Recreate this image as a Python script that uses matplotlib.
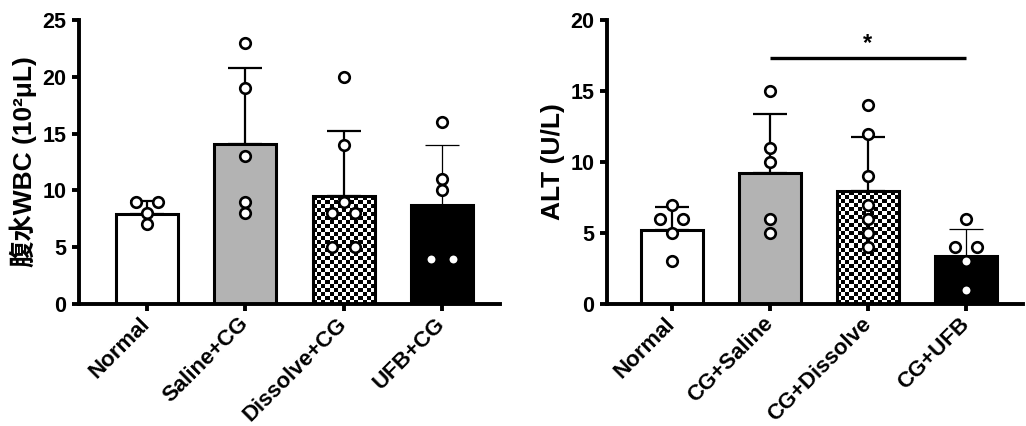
import numpy as np
import matplotlib
matplotlib.use("Agg")
import matplotlib.pyplot as plt

plt.rcParams['font.family'] = ['Liberation Sans', 'Noto Sans CJK SC', 'DejaVu Sans']
plt.rcParams['font.weight'] = 'bold'

# ---------------- data ----------------
wbc_groups = ['Normal', 'Saline+CG', 'Dissolve+CG', 'UFB+CG']
wbc_mean = [7.9, 14.1, 9.5, 8.7]
wbc_sd = [1.15, 6.7, 5.7, 5.3]
wbc_points = [[9, 9, 8, 7], [23, 19, 13, 9, 8], [20, 14, 9, 8, 8, 5, 5], [16, 11, 10, 4, 4]]

alt_groups = ['Normal', 'CG+Saline', 'CG+Dissolve', 'CG+UFB']
alt_mean = [5.2, 9.2, 7.95, 3.4]
alt_sd = [1.65, 4.2, 3.8, 1.9]
alt_points = [[7, 6, 6, 5, 3], [15, 11, 10, 6, 5], [14, 12, 9, 7, 6, 5, 4], [6, 4, 4, 3, 1]]
alt_sig = (1, 3, 17.35, '*')

fill_styles = ['white', '#b3b3b3', 'checker', 'black']

fig = plt.figure(figsize=(10.26, 4.26), dpi=100)
ax1 = fig.add_axes([0.0770, 0.2864, 0.4103, 0.6667])
ax2 = fig.add_axes([0.5916, 0.2864, 0.4055, 0.6667])

LW = 2.8


def spread(vals, step=0.23):
    offs = []
    seen = {}
    for v in vals:
        seen[v] = seen.get(v, 0) + 1
    used = {}
    for v in vals:
        n = seen[v]
        i = used.get(v, 0)
        used[v] = i + 1
        offs.append((i - (n - 1) / 2) * step)
    return offs


def panel(ax, groups, mean, sd, points, ymax, ylabel, xlim):
    x = np.arange(len(groups))
    ax.set_xlim(*xlim)
    ax.set_ylim(0, ymax)
    faces = ['none' if f == 'checker' else f for f in fill_styles]
    bars = ax.bar(x, mean, width=0.63, color=faces, edgecolor='black',
                  linewidth=2.2, zorder=2)
    fig.canvas.draw()
    for b, f in zip(bars, fill_styles):
        if f == 'checker':
            x0, y0 = b.get_x(), 0
            x1, y1 = b.get_x() + b.get_width(), b.get_height()
            p0 = ax.transData.transform((x0, y0))
            p1 = ax.transData.transform((x1, y1))
            nx = max(1, int(round((p1[0] - p0[0]) / 4.0)))
            ny = max(1, int(round((p1[1] - p0[1]) / 4.0)))
            chk = (np.indices((ny, nx)).sum(axis=0) % 2).astype(float)
            im = ax.imshow(chk, cmap='gray', extent=(x0, x1, y0, y1), origin='lower',
                           interpolation='nearest', aspect='auto', zorder=1.5)
            im.set_clip_path(b)
    for i in range(len(groups)):
        thin = fill_styles[i] == 'black'
        ax.errorbar(x[i], mean[i], yerr=[[0], [sd[i]]], fmt='none', ecolor='black',
                    elinewidth=0.9 if thin else 1.6, capsize=12,
                    capthick=0.9 if thin else 1.6, zorder=2.5)
    for i, pts in enumerate(points):
        offs = spread(pts)
        ax.plot(x[i] + np.array(offs), pts, 'o', ms=7.6, mfc='white', mec='black',
                mew=1.9, zorder=4, clip_on=False, linestyle='none')
    for s in ['top', 'right']:
        ax.spines[s].set_visible(False)
    for s in ['left', 'bottom']:
        ax.spines[s].set_linewidth(LW)
    ax.tick_params(axis='both', width=LW, length=5, labelsize=15.5, pad=4)
    ax.tick_params(axis='x', pad=7)
    ax.set_yticks(np.arange(0, ymax + 1, 5))
    ax.set_xticks(x)
    ax.set_xticklabels(groups, rotation=45, ha='right', va='center',
                       rotation_mode='anchor', fontsize=16, fontweight='bold')
    for lab in ax.get_yticklabels():
        lab.set_fontweight('bold')
    ax.set_ylabel(ylabel, fontsize=19, fontweight='bold', labelpad=4)


panel(ax1, wbc_groups, wbc_mean, wbc_sd, wbc_points, 25, '腹水WBC (10²μL)', (-0.69, 3.59))
panel(ax2, alt_groups, alt_mean, alt_sd, alt_points, 20, 'ALT (U/L)', (-0.66, 3.58))

s0, s1, sy, st = alt_sig
ax2.plot([s0, s1], [sy, sy], color='black', lw=2.4, solid_capstyle='butt', zorder=3)
ax2.text((s0 + s1) / 2, sy + 0.15, st, ha='center', va='bottom', fontsize=17,
         fontweight='bold')

fig.savefig('out.png', dpi=100)
